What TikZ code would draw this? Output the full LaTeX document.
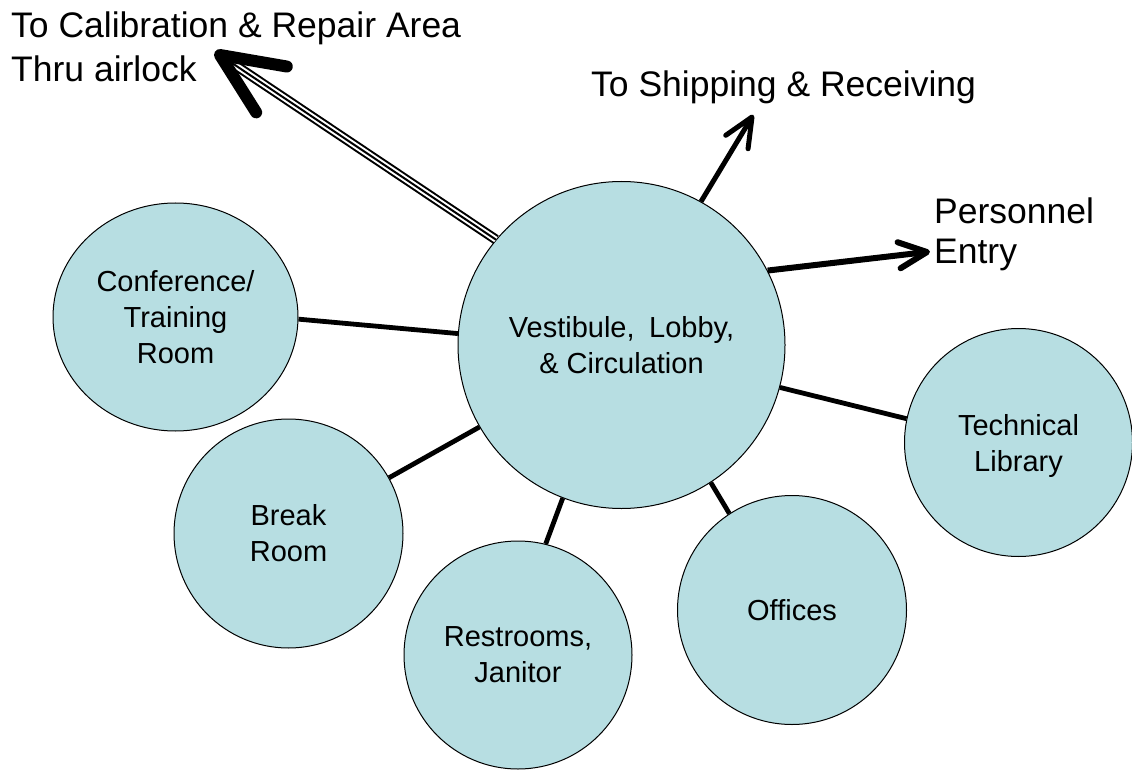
\documentclass[tikz,border=0pt]{standalone}
\usepackage{fontspec}
\setmainfont{Liberation Sans}
\usetikzlibrary{shapes.geometric,calc}
\pgfdeclarelayer{background}
\pgfsetlayers{background,main}
\definecolor{roomfill}{RGB}{183,222,226}
\begin{document}
\begin{tikzpicture}[x=1pt,y=-1pt,
  room/.style={circle,draw=black,line width=1pt,fill=roomfill,inner sep=0pt,align=center,font=\fontsize{29}{36}\selectfont},
  link/.style={line width=4.8pt},
  lbl/.style={inner sep=0pt,align=left,font=\fontsize{35.5}{44}\selectfont},
  head/.style={line cap=round,line join=round},
  triple/.style={line width=2pt,preaction={draw,black,line width=10pt},preaction={draw,white,line width=6pt}}]
\useasboundingbox (0,0) rectangle (1132,770);
% rooms
\node[room,minimum size=327pt] (cen) at (621.5,345) {Vestibule,\hspace{0.5em}Lobby,\\\& Circulation};
\node[room,ellipse,minimum width=245pt,minimum height=228pt] (conf) at (175.5,317) {Conference/\\Training\\Room};
\node[room,minimum size=229pt] (brk) at (288.5,533.5) {Break\\Room};
\node[room,minimum size=228pt] (rest) at (518,655) {Restrooms,\\Janitor};
\node[room,minimum size=229pt] (off) at (792,610) {Offices};
\node[room,minimum size=228pt,text depth=0pt] (lib) at (1018.5,442.5) {Technical\\Library};
% links
\begin{pgfonlayer}{background}
\draw[link] (cen.176.2) -- (conf.-1.9);
\draw[link] (cen.210.4) -- (brk.29.1);
\draw[link] (cen.249.1) -- (rest.76.4);
\draw[link] (cen.-57.5) -- (off.123.1);
\draw[link] (cen.-15.2) -- (lib.168.6);
\end{pgfonlayer}
% arrow ends
\coordinate (shipTip) at (752,117);
\coordinate (persTip) at (927,252);
\coordinate (calTip) at (220,55);
\coordinate (calEnd) at ($(calTip)!14pt!(cen.140.7)$);
% shipping arrow
\draw[line width=5pt] (cen.61.2) -- (shipTip);
\draw[head,line width=5pt] ($(shipTip)!32pt!24:(cen.61.2)$) -- (shipTip) -- ($(shipTip)!32pt!-24:(cen.61.2)$);
% personnel arrow
\draw[line width=6pt] (cen.27.5) -- (persTip);
\draw[head,line width=6pt] ($(persTip)!31pt!25:(cen.27.5)$) -- (persTip) -- ($(persTip)!31pt!-25:(cen.27.5)$);
% calibration arrow
\draw[triple] (cen.140.7) -- (calEnd);
\draw[head,line width=12pt] ($(calTip)!67.8pt!24:(cen.140.7)$) -- (calTip) -- ($(calTip)!67.8pt!-24:(cen.140.7)$);
% labels
\node[lbl,anchor=north west] (calLbl) at (11,11.5) {To Calibration \& Repair Area\\Thru airlock};
\node[lbl,anchor=base west] (shipLbl) at (591,97) {To Shipping \& Receiving};
\node[lbl,anchor=north west,font=\fontsize{35.5}{40}\selectfont] (persLbl) at (934,197.5) {Personnel\\Entry};
\end{tikzpicture}
\end{document}
